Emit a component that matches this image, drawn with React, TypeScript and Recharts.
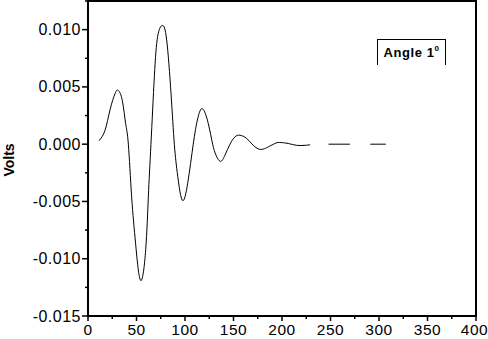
import React from 'react';
import { LineChart, Line, XAxis, YAxis, ReferenceArea } from 'recharts';

// time axis (x) and signal (Volts); nulls are the gaps in the tail
const times = [
  11.3, 17.5, 22.7, 27.8, 31.2, 35.4, 38.8, 41.6, 45, 49.1, 54.3, 59.5, 62.2, 64.9, 68.4, 71.8,
  76.6, 81.1, 85.6, 89, 92.5, 97.3, 102.8, 108.5, 113, 118, 124, 128.5, 132, 136.5, 141.2, 146.4,
  151.5, 156.7, 163.6, 170.4, 178, 185.9, 192.8, 197.2, 206.5, 215, 223.7, 229, 239, 248, 270,
  280, 291, 307,
];
const volts: (number | null)[] = [
  0.0003, 0.0012, 0.003, 0.0044, 0.0047, 0.0038, 0.0018, 0, -0.0046, -0.0087, -0.0119, -0.0092,
  -0.0046, 0, 0.0059, 0.0094, 0.01037, 0.0091, 0.0044, 0, -0.0028, -0.0049, -0.0034, 0, 0.0022,
  0.0031, 0.0018, 0, -0.00096, -0.0015, -0.00096, 0, 0.00064, 0.00078, 0.0005, -0.0001, -0.00046,
  -0.00023, 0.00006, 0.00015, 0.00006, -0.0001, -0.0001, -0.00005, null, 0, 0, null, 0, 0,
];
const xTicks = [0, 25, 50, 75, 100, 125, 150, 175, 200, 225, 250, 275, 300, 325, 350, 375, 400];
const yTicks = [-0.015, -0.0125, -0.01, -0.0075, -0.005, -0.0025, 0, 0.0025, 0.005, 0.0075, 0.01, 0.0125];

const data = times.map((t, i) => ({ t, v: volts[i] }));

const font = '"Liberation Sans", Arial, sans-serif';

const XTick = (props: any) => {
  const { x, y, payload } = props;
  const major = payload.value % 50 === 0;
  return (
    <g>
      <line x1={x} y1={y} x2={x} y2={y + (major ? 5 : 3)} stroke="#000" strokeWidth={1.5} />
      {major && (
        <text
          x={payload.value === 400 ? x - 1.5 : x}
          y={y + 19}
          textAnchor="middle"
          fontFamily={font}
          fontSize={15.5}
          letterSpacing={0.5}
          fill="#000"
        >
          {payload.value}
        </text>
      )}
    </g>
  );
};

const YTick = (props: any) => {
  const { x, y, payload } = props;
  const v = payload.value;
  const major = Math.abs(Math.round(v / 0.005) * 0.005 - v) < 1e-9;
  return (
    <g>
      <line x1={x - (major ? 6 : 3)} y1={y} x2={x} y2={y} stroke="#000" strokeWidth={1.5} />
      {major && (
        <text x={x - 7} y={y + 5.5} textAnchor="end" fontFamily={font} fontSize={16} letterSpacing={0.5} fill="#000">
          {v.toFixed(3)}
        </text>
      )}
    </g>
  );
};

export default function App() {
  return (
    <div style={{ position: 'relative', width: 488, height: 339, background: '#fff', fontFamily: font }}>
      <style>{'body{margin:0}'}</style>
      <LineChart width={488} height={339} data={data} margin={{ top: 1, right: 12, bottom: 0, left: 0 }}>
        <XAxis
          dataKey="t"
          type="number"
          domain={[0, 400]}
          ticks={xTicks}
          interval={0}
          height={23}
          tickSize={0}
          tickMargin={0}
          tickLine={false}
          axisLine={{ stroke: '#000', strokeWidth: 2 }}
          tick={<XTick />}
        />
        <YAxis
          type="number"
          domain={[-0.015, 0.0125]}
          ticks={yTicks}
          interval={0}
          width={88}
          tickSize={0}
          tickMargin={0}
          tickLine={false}
          axisLine={{ stroke: '#000', strokeWidth: 2 }}
          tick={<YTick />}
          allowDataOverflow
        />
        <ReferenceArea x1={0} x2={400} y1={-0.015} y2={0.0125} fill="none" stroke="#000" strokeWidth={2} />
        <Line
          type="natural"
          dataKey="v"
          stroke="#000"
          strokeWidth={1}
          dot={false}
          connectNulls={false}
          isAnimationActive={false}
        />
      </LineChart>
      <div
        style={{
          position: 'absolute',
          left: 9,
          top: 160,
          transform: 'translate(-50%, -50%) rotate(-90deg)',
          fontWeight: 'bold',
          fontSize: 14,
          whiteSpace: 'nowrap',
        }}
      >
        Volts
      </div>
      <div
        style={{
          position: 'absolute',
          left: 377,
          top: 39,
          width: 69,
          height: 26,
          borderLeft: '1px solid #000',
          borderTop: '1px solid #000',
          borderRight: '1px solid #000',
          boxSizing: 'border-box',
          textAlign: 'center',
          fontWeight: 'bold',
          fontSize: 13,
          letterSpacing: 0.6,
          lineHeight: '26px',
        }}
      >
        Angle 1<sup style={{ fontSize: 8, verticalAlign: 'top', lineHeight: '18px' }}>0</sup>
      </div>
    </div>
  );
}
